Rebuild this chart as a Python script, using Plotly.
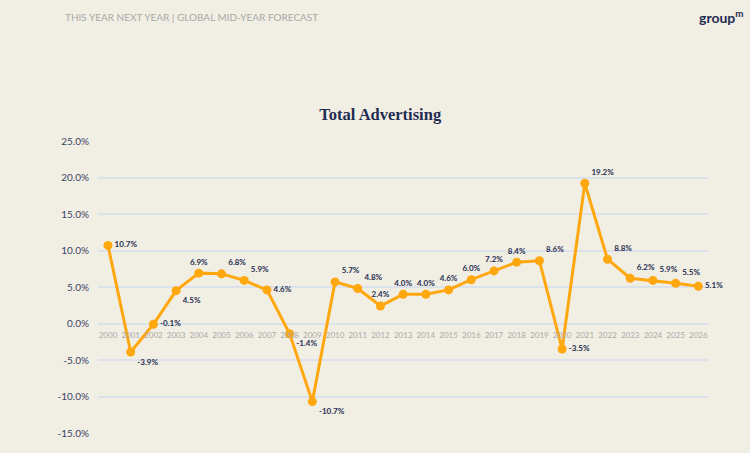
import plotly.graph_objects as go

years = [str(y) for y in range(2000, 2027)]
growth = [10.7, -3.9, -0.1, 4.5, 6.9, 6.8, 5.9, 4.6, -1.4, -10.7, 5.7, 4.8, 2.4, 4.0, 4.0,
          4.6, 6.0, 7.2, 8.4, 8.6, -3.5, 19.2, 8.8, 6.2, 5.9, 5.5, 5.1]
label_pos = ["middle right", "bottom right", "middle right", "bottom right", "top center",
             "top right", "top right", "middle right", "bottom right", "bottom right",
             "top right", "top right", "top center", "top center", "top center",
             "top center", "top center", "top center", "top center", "top right",
             "middle right", "top right", "top right", "top right", "top right",
             "top right", "middle right"]
y_ticks = [-15, -10, -5, 0, 5, 10, 15, 20, 25]

BG = "#f1eee3"
NAVY = "#1f2d52"
ORANGE = "#ffa70f"

fig = go.Figure()
fig.add_trace(go.Scatter(
    x=list(range(len(years))), y=growth,
    mode="lines+markers+text",
    line=dict(color=ORANGE, width=3),
    marker=dict(color=ORANGE, size=9),
    text=[f"{v:.1f}%" for v in growth],
    textposition=label_pos,
    textfont=dict(family="Lato", size=8, color=NAVY, weight="bold"),
    cliponaxis=False,
    hoverinfo="skip",
))

fig.update_layout(
    width=750, height=453,
    paper_bgcolor=BG, plot_bgcolor=BG,
    margin=dict(l=98, r=41, t=141, b=20),
    showlegend=False,
    title=dict(text="<b>Total Advertising</b>", x=0.507, xanchor="center", y=0.747, yanchor="middle",
               font=dict(family="Liberation Serif", size=16.5, color=NAVY)),
    xaxis=dict(
        tickmode="array", tickvals=list(range(len(years))), ticktext=years,
        range=[-0.44, 26.47], anchor="free", position=0.375,
        showgrid=False, zeroline=False, showline=False, ticks="",
        tickfont=dict(family="Lato", size=8, color="#a9a9a9"),
        ticklabelstandoff=5,
    ),
    yaxis=dict(
        range=[-15, 25], tickvals=y_ticks, ticktext=[f"{v:.1f}%" for v in y_ticks],
        gridcolor="#dce2ea", gridwidth=1.5, zeroline=False, showline=False,
        tickfont=dict(family="Lato", size=10, color="#3a4466"),
        ticklabelstandoff=8,
    ),
    annotations=[
        dict(text="THIS YEAR NEXT YEAR | GLOBAL MID-YEAR FORECAST", xref="paper", yref="paper",
             x=-0.058, y=1.425, xanchor="left", yanchor="middle", showarrow=False,
             font=dict(family="Lato", size=10, color="#a9a9a9")),
        dict(text="<b>group<sup>m</sup></b>", xref="paper", yref="paper",
             x=1.06, y=1.425, xanchor="right", yanchor="middle", showarrow=False,
             font=dict(family="Lato", size=14, color=NAVY)),
    ],
)

fig.write_html("out.html")
